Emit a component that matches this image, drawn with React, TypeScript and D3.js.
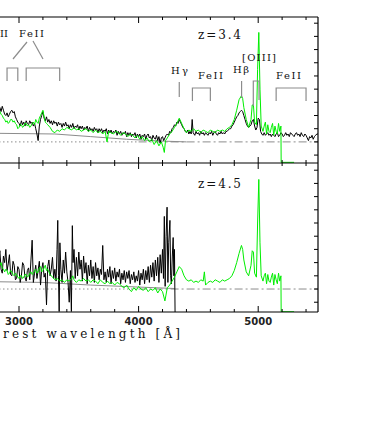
import React from 'react';
import * as d3 from 'd3';

// rest wavelength [A], flux (arbitrary units, zero = dashed line)
const topBlack: [number, number][] = [
  [2830, 0.25], [2840, 0.26], [2850, 0.23], [2860, 0.27], [2870, 0.24], [2880, 0.21], [2890, 0.20], [2900, 0.22],
  [2910, 0.19], [2920, 0.21], [2930, 0.23], [2940, 0.24], [2950, 0.22], [2960, 0.23], [2970, 0.19], [2980, 0.17],
  [2990, 0.15], [3000, 0.14], [3010, 0.12], [3020, 0.16], [3030, 0.13], [3040, 0.15], [3050, 0.12], [3060, 0.16],
  [3070, 0.14], [3080, 0.13], [3090, 0.16], [3100, 0.14], [3110, 0.15], [3120, 0.12], [3130, 0.14], [3140, 0.10],
  [3150, 0.06], [3160, 0.01], [3170, 0.12], [3180, 0.17], [3190, 0.20], [3200, 0.23], [3210, 0.18], [3220, 0.16],
  [3230, 0.19], [3240, 0.15], [3250, 0.17], [3260, 0.14], [3270, 0.16], [3280, 0.13], [3290, 0.16], [3300, 0.14],
  [3310, 0.15], [3320, 0.12], [3330, 0.15], [3340, 0.13], [3350, 0.14], [3360, 0.11], [3370, 0.14], [3380, 0.12],
  [3390, 0.15], [3400, 0.12], [3410, 0.13], [3420, 0.10], [3430, 0.13], [3440, 0.11], [3450, 0.14], [3460, 0.10],
  [3470, 0.12], [3480, 0.11], [3490, 0.13], [3500, 0.09], [3510, 0.12], [3520, 0.10], [3530, 0.12], [3540, 0.09],
  [3550, 0.11], [3560, 0.10], [3570, 0.12], [3580, 0.08], [3590, 0.11], [3600, 0.09], [3610, 0.10], [3620, 0.08],
  [3630, 0.11], [3640, 0.09], [3650, 0.10], [3660, 0.07], [3670, 0.10], [3680, 0.08], [3690, 0.10], [3700, 0.07],
  [3710, 0.09], [3720, 0.08], [3730, 0.10], [3740, 0.06], [3750, 0.09], [3760, 0.07], [3770, 0.09], [3780, 0.06],
  [3790, 0.08], [3800, 0.07], [3810, 0.09], [3820, 0.05], [3830, 0.08], [3840, 0.06], [3850, 0.08], [3860, 0.05],
  [3870, 0.07], [3880, 0.06], [3890, 0.08], [3900, 0.04], [3910, 0.07], [3920, 0.05], [3930, 0.07], [3940, 0.04],
  [3950, 0.06], [3960, 0.05], [3970, 0.07], [3980, 0.03], [3990, 0.06], [4000, 0.04], [4010, 0.06], [4020, 0.02],
  [4030, 0.05], [4040, 0.04], [4050, 0.06], [4060, 0.02], [4070, 0.05], [4080, 0.06], [4090, 0.03], [4100, 0.04],
  [4110, 0.01], [4120, 0.05], [4130, 0.03], [4140, 0.02], [4150, 0.05], [4160, 0.01], [4170, 0.04], [4180, -0.01],
  [4190, 0.03], [4200, 0.04], [4210, 0.01], [4220, 0.03], [4230, 0.05], [4240, 0.06], [4250, 0.05], [4260, 0.08],
  [4270, 0.07], [4280, 0.10], [4290, 0.11], [4300, 0.13], [4310, 0.12], [4320, 0.15], [4330, 0.14], [4340, 0.17],
  [4350, 0.15], [4360, 0.13], [4370, 0.11], [4380, 0.10], [4390, 0.08], [4400, 0.07], [4410, 0.09], [4420, 0.06],
  [4430, 0.08], [4440, 0.06], [4448, 0.17], [4456, 0.07], [4470, 0.05], [4480, 0.08], [4490, 0.06], [4500, 0.07],
  [4510, 0.05], [4520, 0.08], [4530, 0.06], [4540, 0.07], [4550, 0.05], [4560, 0.07], [4570, 0.06], [4580, 0.05],
  [4590, 0.07], [4600, 0.06], [4610, 0.08], [4620, 0.05], [4630, 0.07], [4640, 0.08], [4650, 0.06], [4660, 0.05],
  [4670, 0.07], [4680, 0.06], [4690, 0.08], [4700, 0.06], [4710, 0.07], [4720, 0.06], [4730, 0.08], [4740, 0.08],
  [4750, 0.09], [4760, 0.10], [4770, 0.10], [4780, 0.12], [4790, 0.13], [4800, 0.15], [4810, 0.17], [4820, 0.19],
  [4830, 0.20], [4840, 0.22], [4850, 0.23], [4860, 0.24], [4870, 0.23], [4880, 0.20], [4890, 0.17], [4900, 0.14],
  [4910, 0.12], [4920, 0.11], [4930, 0.12], [4940, 0.13], [4950, 0.16], [4960, 0.17], [4970, 0.12], [4980, 0.09],
  [4990, 0.11], [5000, 0.18], [5010, 0.17], [5020, 0.08], [5030, 0.06], [5040, 0.05], [5050, 0.07], [5060, 0.05],
  [5070, 0.06], [5080, 0.07], [5090, 0.05], [5100, 0.06], [5110, 0.04], [5120, 0.06], [5130, 0.05], [5140, 0.04],
  [5150, 0.06], [5160, 0.07], [5170, 0.04], [5180, 0.05], [5190, 0.07], [5200, 0.06], [5210, 0.04], [5220, 0.05],
  [5230, 0.07], [5240, 0.05], [5250, 0.06], [5260, 0.04], [5270, 0.07], [5280, 0.06], [5290, 0.05], [5300, 0.04],
  [5310, 0.06], [5320, 0.07], [5330, 0.05], [5340, 0.06], [5350, 0.04], [5360, 0.07], [5370, 0.05], [5380, 0.04],
  [5390, 0.06], [5400, 0.05], [5410, 0.03], [5420, 0.01], [5430, 0.04], [5440, 0.03], [5450, 0.05], [5460, 0.02],
  [5470, 0.04], [5480, 0.05], [5490, 0.06], [5500, 0.06],
];

const topGreen: [number, number][] = [
  [2830, 0.24], [2840, 0.23], [2850, 0.21], [2860, 0.20], [2870, 0.18], [2880, 0.17], [2890, 0.15], [2900, 0.16],
  [2910, 0.14], [2920, 0.15], [2930, 0.17], [2940, 0.17], [2950, 0.15], [2960, 0.16], [2970, 0.14], [2980, 0.13],
  [2990, 0.10], [3000, 0.11], [3010, 0.13], [3020, 0.13], [3030, 0.11], [3040, 0.12], [3050, 0.14], [3060, 0.14],
  [3070, 0.12], [3080, 0.13], [3090, 0.11], [3100, 0.12], [3110, 0.14], [3120, 0.15], [3130, 0.13], [3140, 0.17],
  [3150, 0.15], [3160, 0.14], [3170, 0.18], [3180, 0.20], [3190, 0.22], [3200, 0.24], [3210, 0.19], [3220, 0.15],
  [3230, 0.14], [3240, 0.13], [3250, 0.12], [3260, 0.11], [3280, 0.08], [3300, 0.07], [3320, 0.09], [3340, 0.08],
  [3360, 0.10], [3380, 0.09], [3400, 0.11], [3420, 0.10], [3440, 0.09], [3460, 0.11], [3480, 0.09], [3500, 0.10],
  [3520, 0.08], [3540, 0.09], [3560, 0.10], [3580, 0.08], [3600, 0.09], [3620, 0.07], [3640, 0.09], [3660, 0.07],
  [3680, 0.08], [3700, 0.06], [3720, 0.08], [3736, 0.00], [3750, 0.08], [3770, 0.07], [3790, 0.06], [3810, 0.08],
  [3830, 0.07], [3850, 0.05], [3870, 0.07], [3890, 0.06], [3910, 0.04], [3930, 0.06], [3950, 0.05], [3970, 0.03],
  [3990, 0.05], [4010, 0.02], [4030, 0.04], [4050, 0.01], [4070, 0.03], [4090, 0.00], [4110, 0.02], [4130, -0.02],
  [4150, 0.01], [4170, -0.03], [4190, 0.00], [4205, -0.04], [4215, -0.08], [4225, 0.01], [4240, 0.03], [4260, 0.06],
  [4280, 0.08], [4300, 0.11], [4320, 0.14], [4340, 0.18], [4360, 0.14], [4380, 0.10], [4400, 0.07], [4420, 0.09],
  [4440, 0.08], [4460, 0.10], [4480, 0.08], [4500, 0.09], [4520, 0.07], [4540, 0.09], [4560, 0.08], [4580, 0.07],
  [4600, 0.09], [4620, 0.08], [4640, 0.07], [4660, 0.09], [4680, 0.08], [4700, 0.09], [4720, 0.08], [4740, 0.10],
  [4760, 0.11], [4780, 0.13], [4800, 0.17], [4820, 0.24], [4840, 0.32], [4860, 0.35], [4870, 0.33], [4880, 0.26],
  [4900, 0.17], [4920, 0.11], [4940, 0.17], [4950, 0.28], [4960, 0.28], [4970, 0.15], [4985, 0.13], [4995, 0.55],
  [5005, 0.83], [5015, 0.40], [5025, 0.12], [5040, 0.08], [5050, 0.12], [5060, 0.15], [5070, 0.06], [5080, 0.13],
  [5090, 0.08], [5100, 0.07], [5110, 0.11], [5120, 0.14], [5130, 0.05], [5140, 0.12], [5150, 0.08], [5160, 0.06],
  [5170, 0.14], [5180, 0.08], [5190, 0.12], [5192, -0.155], [5300, -0.155],
];

const bottomBlack: [number, number][] = [
  [2830, 0.22], [2840, 0.29], [2850, 0.15], [2860, 0.12], [2870, 0.25], [2880, 0.20], [2890, 0.30], [2900, 0.14],
  [2910, 0.19], [2920, 0.26], [2930, 0.11], [2940, 0.10], [2950, 0.21], [2960, 0.18], [2970, 0.07], [2980, 0.08],
  [2990, 0.17], [3000, 0.15], [3010, 0.05], [3020, 0.10], [3030, 0.20], [3040, 0.18], [3050, 0.09], [3060, 0.06],
  [3070, 0.14], [3080, 0.16], [3090, 0.07], [3100, 0.22], [3110, 0.37], [3120, 0.05], [3130, 0.12], [3140, 0.18],
  [3150, 0.08], [3160, 0.14], [3170, 0.21], [3180, 0.03], [3190, 0.15], [3200, 0.20], [3210, 0.09], [3220, 0.12],
  [3230, -0.12], [3240, 0.17], [3250, 0.22], [3260, 0.10], [3270, 0.15], [3280, 0.24], [3290, 0.08], [3300, 0.15],
  [3310, 0.06], [3318, 0.30], [3324, 0.52], [3330, 0.10], [3336, -0.17], [3342, 0.35], [3350, 0.15], [3360, 0.05],
  [3370, 0.22], [3380, 0.12], [3390, 0.28], [3400, 0.13], [3410, 0.05], [3420, -0.10], [3430, 0.14], [3438, -0.17],
  [3446, 0.48], [3452, 0.20], [3460, 0.30], [3470, 0.08], [3480, 0.24], [3490, 0.10], [3500, 0.28], [3510, 0.15],
  [3520, 0.22], [3530, 0.06], [3540, 0.25], [3550, 0.12], [3560, 0.20], [3570, 0.04], [3580, 0.18], [3590, 0.10],
  [3600, 0.22], [3610, 0.08], [3620, 0.17], [3630, 0.05], [3640, 0.20], [3650, 0.10], [3660, 0.16], [3670, 0.07],
  [3680, 0.15], [3690, 0.11], [3700, 0.33], [3710, 0.07], [3720, 0.13], [3730, 0.05], [3740, 0.15], [3750, 0.09],
  [3760, 0.17], [3770, 0.04], [3780, 0.14], [3790, 0.08], [3800, 0.16], [3810, 0.06], [3820, 0.13], [3830, 0.09],
  [3840, 0.15], [3850, 0.04], [3860, 0.12], [3870, 0.07], [3880, 0.14], [3890, 0.05], [3900, 0.13], [3910, 0.08],
  [3920, 0.14], [3930, 0.04], [3940, 0.11], [3950, 0.07], [3960, 0.13], [3970, 0.05], [3980, 0.10], [3990, 0.06],
  [4000, 0.14], [4010, 0.03], [4020, 0.12], [4030, 0.07], [4040, 0.15], [4050, 0.04], [4060, 0.14], [4070, 0.07],
  [4080, 0.17], [4090, 0.05], [4100, 0.18], [4110, 0.09], [4120, 0.20], [4130, 0.06], [4140, 0.22], [4150, 0.10],
  [4160, 0.24], [4170, 0.05], [4180, 0.26], [4190, 0.12], [4200, 0.30], [4208, 0.08], [4215, 0.55], [4222, 0.02],
  [4230, 0.40], [4238, 0.62], [4245, 0.05], [4252, 0.35], [4262, 0.52], [4268, 0.10], [4274, 0.04], [4282, 0.25],
  [4289, 0.39], [4295, 0.10], [4300, 0.30], [4305, -0.18],
];

const bottomGreen: [number, number][] = [
  [2830, 0.19], [2840, 0.18], [2850, 0.20], [2860, 0.16], [2870, 0.15], [2880, 0.13], [2890, 0.15], [2900, 0.14],
  [2910, 0.11], [2920, 0.12], [2930, 0.14], [2940, 0.13], [2950, 0.11], [2960, 0.10], [2970, 0.12], [2980, 0.11],
  [2990, 0.09], [3000, 0.08], [3010, 0.10], [3020, 0.10], [3030, 0.08], [3040, 0.09], [3050, 0.11], [3060, 0.11],
  [3070, 0.09], [3080, 0.10], [3090, 0.12], [3100, 0.13], [3110, 0.11], [3120, 0.12], [3130, 0.14], [3140, 0.15],
  [3150, 0.12], [3160, 0.13], [3170, 0.16], [3180, 0.17], [3190, 0.13], [3200, 0.14], [3210, 0.16], [3220, 0.18],
  [3230, 0.14], [3240, 0.15], [3260, 0.11], [3280, 0.09], [3300, 0.07], [3320, 0.08], [3340, 0.06], [3360, 0.07],
  [3380, 0.05], [3400, 0.07], [3420, 0.06], [3440, 0.08], [3450, 0.10], [3460, 0.07], [3480, 0.05], [3500, 0.07],
  [3520, 0.06], [3540, 0.08], [3560, 0.06], [3580, 0.07], [3600, 0.05], [3620, 0.07], [3640, 0.06], [3660, 0.04],
  [3680, 0.07], [3700, 0.05], [3720, 0.04], [3740, 0.06], [3760, 0.04], [3780, 0.05], [3800, 0.03], [3820, 0.05],
  [3840, 0.04], [3860, 0.02], [3880, 0.01], [3900, 0.03], [3920, 0.00], [3940, -0.02], [3960, 0.01], [3980, -0.01],
  [4000, 0.02], [4020, 0.00], [4040, -0.01], [4060, 0.01], [4080, -0.02], [4100, 0.00], [4120, -0.01], [4140, 0.01],
  [4160, -0.03], [4180, 0.00], [4200, -0.02], [4220, -0.09], [4240, 0.01], [4260, 0.03], [4280, 0.06], [4300, 0.09],
  [4320, 0.13], [4340, 0.17], [4360, 0.15], [4380, 0.10], [4400, 0.07], [4420, 0.06], [4440, 0.07], [4460, 0.05],
  [4480, 0.06], [4500, 0.05], [4520, 0.07], [4540, 0.06], [4550, 0.13], [4560, 0.03], [4580, 0.05], [4600, 0.06],
  [4620, 0.05], [4640, 0.07], [4660, 0.06], [4680, 0.05], [4700, 0.07], [4720, 0.06], [4740, 0.07], [4760, 0.08],
  [4780, 0.10], [4800, 0.14], [4820, 0.20], [4840, 0.27], [4860, 0.33], [4870, 0.30], [4880, 0.22], [4900, 0.13],
  [4920, 0.10], [4940, 0.18], [4950, 0.29], [4960, 0.28], [4970, 0.12], [4985, 0.09], [4995, 0.50], [5005, 0.83],
  [5015, 0.35], [5025, 0.10], [5040, 0.06], [5050, 0.10], [5060, 0.12], [5070, 0.04], [5080, 0.11], [5090, 0.06],
  [5100, 0.05], [5110, 0.09], [5120, 0.12], [5130, 0.03], [5140, 0.11], [5150, 0.07], [5160, 0.04], [5170, 0.12],
  [5180, 0.06], [5190, 0.10], [5192, -0.172], [5300, -0.172],
];

// grey model continuum under the spectra
const topModel: [number, number][] = [[2830, 0.065], [3300, 0.06], [3600, 0.04], [3900, 0.02], [4200, 0.006], [4400, 0.0]];
const bottomModel: [number, number][] = [[2830, 0.055], [3200, 0.05], [3600, 0.03], [4000, 0.015], [4300, 0.004]];

const xTickLabels = [3000, 4000, 5000];
const yTicks = [-0.1, 0, 0.1, 0.2, 0.3, 0.4, 0.5, 0.6, 0.7, 0.8, 0.9];

// FeII blends marked in the top panel
const brackets = [
  {from: 2900, to: 2990}, {from: 3060, to: 3340}, {from: 4450, to: 4600}, {from: 5150, to: 5400},
];

const W = 392, H = 433;
const left = -45, right = 318;
const top1 = 17, mid = 163, bot = 312;

export default function App() {
  const x = d3.scaleLinear().domain([3000, 5500]).range([19, right]);
  const yTop = d3.scaleLinear().domain([-0.16, 0.947]).range([mid, top1]);
  const yBot = d3.scaleLinear().domain([-0.174, 0.947]).range([bot, mid + 1]);
  const lineTop = d3.line<[number, number]>().x(d => x(d[0])).y(d => yTop(d[1]));
  const lineBot = d3.line<[number, number]>().x(d => x(d[0])).y(d => yBot(d[1]));
  const minor = d3.range(2600, 5501, 200);
  const serif = '"DejaVu Serif", serif';
  const grey = '#8c8c8c';

  const xTicks = (y0: number, dir: number) => minor.map(t => {
    const len = t % 1000 === 0 ? 6 : 3;
    return <line key={`${y0}-${dir}-${t}`} x1={x(t)} x2={x(t)} y1={y0} y2={y0 + dir * len} stroke="#000" />;
  });
  const rTicks = (y: d3.ScaleLinear<number, number>) => yTicks.map(t => (
    <line key={`r${y(t)}`} x1={right} x2={right - 4} y1={y(t)} y2={y(t)} stroke="#000" />
  ));

  const zeroLines = (y: d3.ScaleLinear<number, number>) => (
    <g>
      <line x1={left} x2={x(4000)} y1={y(0)} y2={y(0)} stroke={grey} strokeDasharray="1.5,2.5" />
      <line x1={x(4000)} x2={right} y1={y(0)} y2={y(0)} stroke={grey} strokeDasharray="8,3,2,3" />
    </g>
  );

  return (
    <svg width={W} height={H} style={{position: 'absolute', left: 0, top: 0, background: '#fff'}}>
      <defs>
        <clipPath id="c1"><rect x={left} y={top1} width={right - left} height={mid - top1} /></clipPath>
        <clipPath id="c2"><rect x={left} y={mid} width={right - left} height={bot - mid} /></clipPath>
      </defs>

      {/* top panel z=3.4 */}
      <g clipPath="url(#c1)">
        {zeroLines(yTop)}
        <path d={lineTop(topModel) || ''} fill="none" stroke={grey} />
        <path d={lineTop(topBlack) || ''} fill="none" stroke="#000" strokeWidth={1} />
        <path d={lineTop(topGreen) || ''} fill="none" stroke="#00ee00" strokeWidth={1} />
      </g>

      {/* bottom panel z=4.5 */}
      <g clipPath="url(#c2)">
        {zeroLines(yBot)}
        <path d={lineBot(bottomModel) || ''} fill="none" stroke={grey} />
        <path d={lineBot(bottomBlack) || ''} fill="none" stroke="#000" strokeWidth={1} />
        <path d={lineBot(bottomGreen) || ''} fill="none" stroke="#00ee00" strokeWidth={1} />
      </g>

      {/* frames */}
      <g fill="none" stroke="#000" strokeWidth={1.2}>
        <line x1={left} x2={right} y1={top1} y2={top1} />
        <line x1={left} x2={right} y1={mid} y2={mid} />
        <line x1={left} x2={right} y1={bot} y2={bot} />
        <line x1={right} x2={right} y1={top1} y2={bot} />
      </g>
      {xTicks(top1, 1)}
      {xTicks(mid, -1)}
      {xTicks(mid, 1)}
      {xTicks(bot, -1)}
      {rTicks(yTop)}
      {rTicks(yBot)}

      {/* line identifications */}
      <g fill="none" stroke={grey} strokeWidth={1.2}>
        {brackets.map((b, i) => {
          const yb = i < 2 ? 68 : 88;
          return <path key={i} d={`M${x(b.from)},${yb + 13}V${yb}H${x(b.to)}V${yb + 13}`} />;
        })}
        <line x1={27} y1={42} x2={13} y2={59} />
        <line x1={33} y1={41} x2={43} y2={59} />
        <line x1={x(4340)} x2={x(4340)} y1={82} y2={97} />
        <line x1={x(4861)} x2={x(4861)} y1={81} y2={98} />
        <path d={`M${x(4959)},106V81H${x(5007)}V100`} />
      </g>
      <g fontFamily={serif} fontSize={10} fill="#111">
        <text x={8} y={37} textAnchor="end">MgII</text>
        <text x={19} y={37} textLength={25}>FeII</text>
        <text x={171} y={74} textLength={17}>Hγ</text>
        <text x={198} y={79} textLength={25}>FeII</text>
        <text x={233} y={73} textLength={16}>Hβ</text>
        <text x={242} y={61} textLength={34}>[OIII]</text>
        <text x={276} y={79} textLength={25}>FeII</text>
      </g>
      <g fontFamily={serif} fontSize={12} fill="#111">
        <text x={198} y={39} textLength={43}>z=3.4</text>
        <text x={198} y={188} textLength={43}>z=4.5</text>
      </g>

      {/* x axis labels */}
      <g fontFamily='"DejaVu Sans", sans-serif' fontSize={10} fontWeight="bold" fill="#222">
        {xTickLabels.map(t => (
          <text key={t} x={x(t)} y={325} textAnchor="middle" textLength={28}>{t}</text>
        ))}
      </g>
      <text x={3} y={338} fontFamily={serif} fontSize={12} fill="#111" textLength={177}>rest wavelength [Å]</text>
    </svg>
  );
}
